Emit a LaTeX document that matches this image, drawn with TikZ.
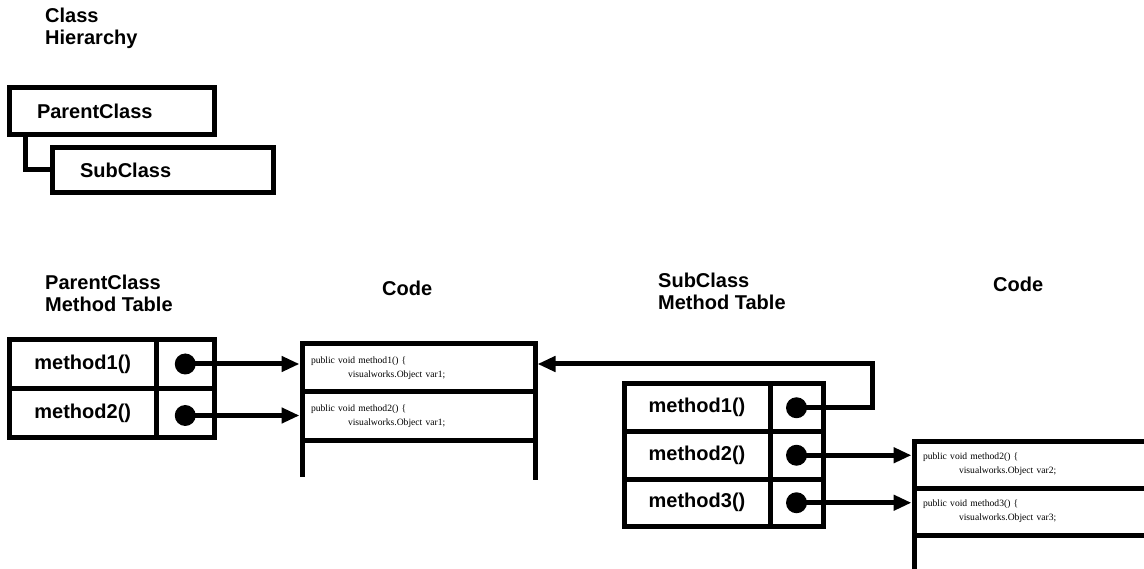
\documentclass[tikz,border=0pt]{standalone}
\usepackage{fontspec}
\setmainfont{Liberation Sans}
\newfontfamily\codefont{Liberation Serif}
\usepackage{tikz}
\usetikzlibrary{arrows.meta,positioning}

\begin{document}
\begin{tikzpicture}[
  x=1pt,y=-1pt,
  head/.style={font=\bfseries\fontsize{20}{21.5}\selectfont,align=left,inner sep=0pt},
  cls/.style={draw,line width=5pt,outer sep=0pt,font=\bfseries\fontsize{20}{24}\selectfont,
    inner xsep=27.5pt,inner ysep=0pt,align=left},
  namecell/.style={draw,line width=5pt,outer sep=0pt,font=\bfseries\fontsize{20}{24}\selectfont,
    inner sep=0pt,minimum width=146.5pt,minimum height=49pt},
  ptrcell/.style={draw,line width=5pt,outer sep=0pt,inner sep=0pt,minimum width=58.5pt,minimum height=49pt},
  code/.style={draw,line width=5pt,font=\codefont\fontsize{9.6}{14}\selectfont,align=left,
    inner xsep=9pt,inner ysep=0pt,minimum height=48pt},
  dot/.style={circle,fill,inner sep=0pt,minimum size=21pt},
  link/.style={line width=5pt},
  arr/.style={line width=5pt,-{Triangle[length=18pt,width=15pt]}}
]
\useasboundingbox (0,0) rectangle (1144,569);
\clip (0,0) rectangle (1144,569);

% class hierarchy
\node[head,anchor=north west] (title) at (45,8) {Class\\Hierarchy};
\node[cls,text width=150pt,minimum height=47pt] (pc) at (112,111) {ParentClass};
\node[cls,text width=166pt,minimum height=45pt] (sc) at (163,170) {SubClass};
\draw[link] ([xshift=15.5pt]pc.south west) |- (sc.west);

% headings
\node[head,anchor=north west] (pthead) at (45,275) {ParentClass\\Method Table};
\node[head,anchor=base west] (pcode) at (382,296) {Code};
\node[head,anchor=north west] (sthead) at (658,273) {SubClass\\Method Table};
\node[head,anchor=base west] (scode) at (993,292) {Code};

% ParentClass method table
\node[namecell] (pm1) at (82.75,364) {method1()};
\node[ptrcell,right=0pt of pm1] (pp1) {};
\node[namecell,below=0pt of pm1] (pm2) {method2()};
\node[ptrcell,right=0pt of pm2] (pp2) {};
\node[dot] (pd1) at (pp1) {};
\node[dot] (pd2) at ([yshift=-2.5pt]pp2.center) {};

% SubClass method table
\node[namecell,minimum width=146pt,minimum height=47.5pt] (sm1) at (697,407.75) {method1()};
\node[ptrcell,minimum width=53pt,minimum height=47.5pt,right=0pt of sm1] (sp1) {};
\node[namecell,minimum width=146pt,minimum height=47.5pt,below=0pt of sm1] (sm2) {method2()};
\node[ptrcell,minimum width=53pt,minimum height=47.5pt,right=0pt of sm2] (sp2) {};
\node[namecell,minimum width=146pt,minimum height=47.5pt,below=0pt of sm2] (sm3) {method3()};
\node[ptrcell,minimum width=53pt,minimum height=47.5pt,right=0pt of sm3] (sp3) {};
\node[dot] (sd1) at (sp1) {};
\node[dot] (sd2) at (sp2) {};
\node[dot] (sd3) at (sp3) {};

% code blocks
\node[code,text width=215pt] (c1a) at (418.5,368) {public void method1() \{\\\hspace*{37pt}visualworks.Object var1;};
\node[code,text width=215pt,below=-5pt of c1a] (c1b) {public void method2() \{\\\hspace*{37pt}visualworks.Object var1;};
\draw[link] (c1b.south west) ++(2.5,-2.5) -- ++(0,36.5);
\draw[link] (c1b.south east) ++(-2.5,-2.5) -- ++(0,40);

\node[code,text width=242pt,minimum height=47pt] (c2a) at (1044,464.5) {public void method2() \{\\\hspace*{36pt}visualworks.Object var2;};
\node[code,text width=242pt,minimum height=47pt,below=-5pt of c2a] (c2b) {public void method3() \{\\\hspace*{36pt}visualworks.Object var3;};
\draw[link] (c2b.south west) ++(2.5,-2.5) -- ++(0,40);

% pointers
\draw[arr] (pd1.center) -- (pd1 -| c1a.west);
\draw[arr] (pd2.center) -- (pd2 -| c1b.west);
\draw[arr] (sd1.center) -- ++(76,0) |- (pd1 -| c1a.east);
\draw[arr] (sd2.center) -- (sd2 -| c2a.west);
\draw[arr] (sd3.center) -- (sd3 -| c2b.west);
\end{tikzpicture}
\end{document}
